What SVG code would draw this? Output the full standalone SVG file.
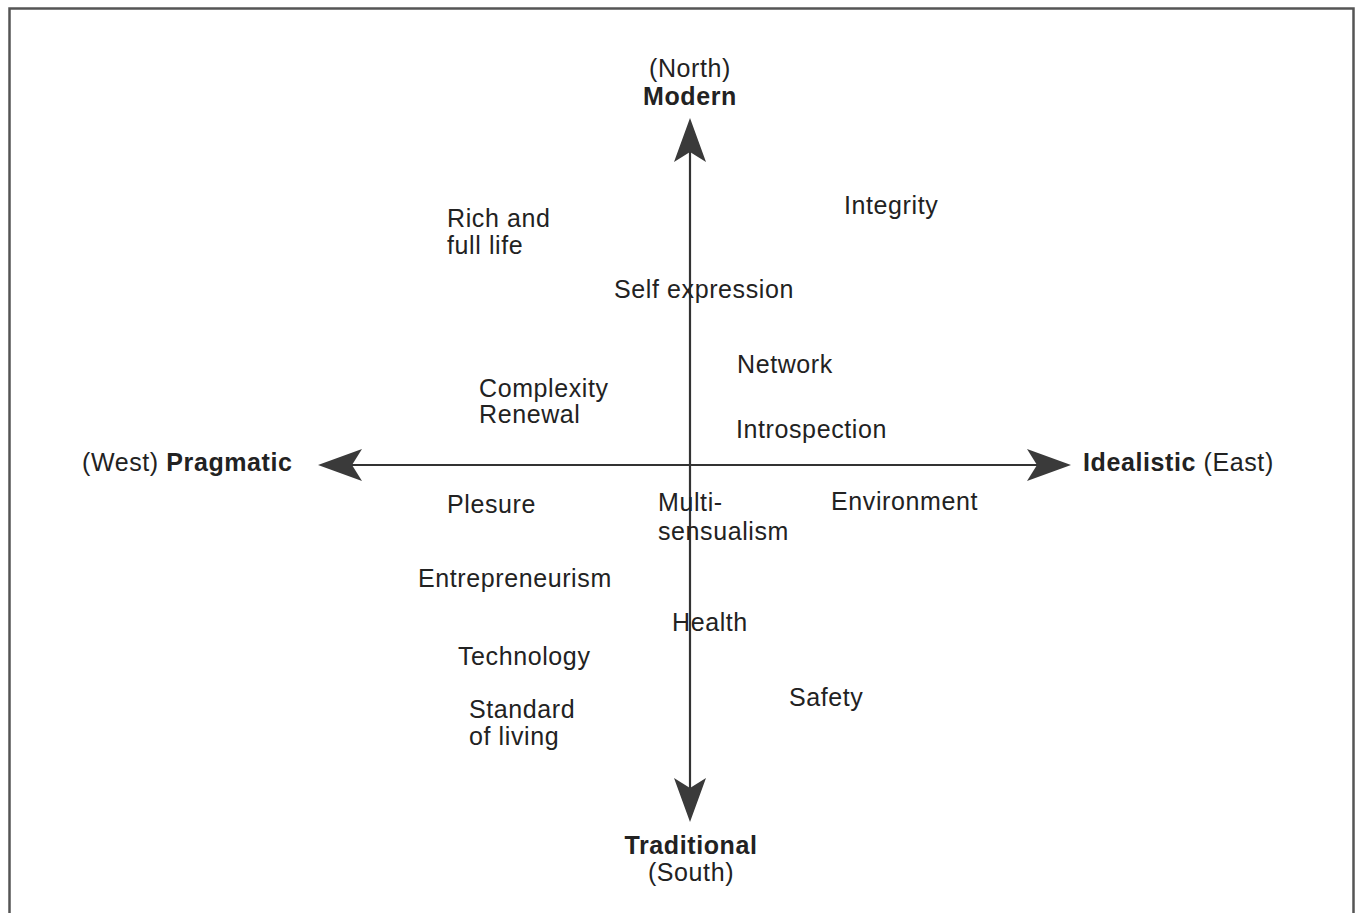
<svg xmlns="http://www.w3.org/2000/svg" width="1356" height="913" viewBox="0 0 1356 913">
<defs>
<style>
text{font-family:"Liberation Sans",Arial,Helvetica,sans-serif;font-size:25px;fill:#222;letter-spacing:0.6px}
.b{font-weight:bold}
.c{text-anchor:middle}
.axis{stroke:#333;stroke-width:2.2;fill:none}
</style>
<marker id="ah" viewBox="0 0 44 32" refX="10" refY="16" markerWidth="44" markerHeight="32" markerUnits="userSpaceOnUse" orient="auto-start-reverse">
<path d="M0,0 L44,16 L0,32 L10,16 Z" fill="#3a3a3a"/>
</marker>
</defs>
<rect x="0" y="0" width="1356" height="913" fill="#fff"/>
<path d="M9.5,920 L9.5,8.5 L1353.5,8.5 L1353.5,920" fill="none" stroke="#555" stroke-width="2.5"/>
<g id="connectors">
<line class="axis" x1="690" y1="152" x2="690" y2="788" marker-start="url(#ah)" marker-end="url(#ah)"/>
<line class="axis" x1="352" y1="465" x2="1037" y2="465" marker-start="url(#ah)" marker-end="url(#ah)"/>
</g>
<g id="north"><text class="c" x="690" y="77">(North)</text><text class="c b" x="690" y="105">Modern</text></g>
<g id="south"><text class="c b" x="691" y="854">Traditional</text><text class="c" x="691" y="881">(South)</text></g>
<g id="west"><text x="82" y="471">(West) <tspan class="b">Pragmatic</tspan></text></g>
<g id="east"><text x="1083" y="471"><tspan class="b">Idealistic</tspan> (East)</text></g>
<g id="rich"><text x="447" y="227">Rich and</text><text x="447" y="254">full life</text></g>
<g id="integrity"><text x="844" y="214">Integrity</text></g>
<g id="selfexpression"><text x="614" y="298">Self expression</text></g>
<g id="network"><text x="737" y="373">Network</text></g>
<g id="complexity"><text x="479" y="397">Complexity</text><text x="479" y="423">Renewal</text></g>
<g id="introspection"><text x="736" y="438">Introspection</text></g>
<g id="plesure"><text x="447" y="513">Plesure</text></g>
<g id="multisensualism"><text x="658" y="511">Multi-</text><text x="658" y="540">sensualism</text></g>
<g id="environment"><text x="831" y="510">Environment</text></g>
<g id="entrepreneurism"><text x="418" y="587">Entrepreneurism</text></g>
<g id="health"><text x="672" y="631">Health</text></g>
<g id="technology"><text x="458" y="665">Technology</text></g>
<g id="safety"><text x="789" y="706">Safety</text></g>
<g id="standard"><text x="469" y="718">Standard</text><text x="469" y="745">of living</text></g>
</svg>
